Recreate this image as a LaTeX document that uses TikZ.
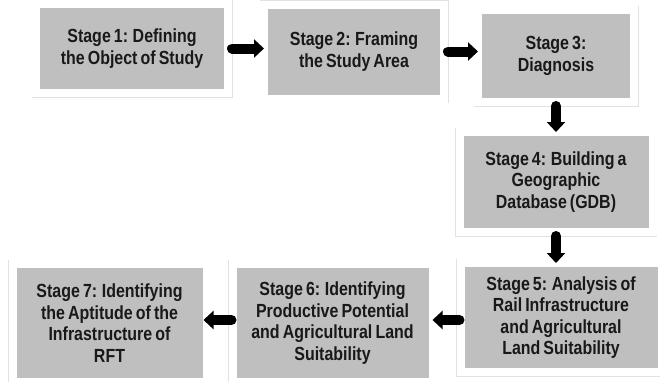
\documentclass[tikz,border=0pt]{standalone}
\usepackage{fontspec}
\setmainfont{Liberation Sans}[FakeStretch=0.84,WordSpace=0.7]
\usetikzlibrary{positioning,arrows.meta}
\definecolor{stagegray}{RGB}{191,191,191}
\definecolor{framegray}{RGB}{226,226,226}

\begin{document}
\begin{tikzpicture}[node distance=22pt,
  stage/.style={fill=stagegray,draw=white,line width=8pt,preaction={draw=framegray,line width=9pt},
    align=center,inner sep=0pt,text=black!90,font=\bfseries\fontsize{19}{21.5}\selectfont},
  blk/.style={line width=10pt,line cap=round,shorten >=-4pt,-{Triangle[length=10pt,width=18pt]}}]
\useasboundingbox (0,0) rectangle (660pt,-381pt);
% top row, left to right
\node[stage,minimum width=192pt,minimum height=89pt] (s1) at (132pt,-48.5pt) {Stage 1: Defining\\the Object of Study};
\node[stage,minimum width=180pt,minimum height=94pt,right=28pt of s1,yshift=-3pt] (s2) {Stage 2: Framing\\the Study Area};
\node[stage,minimum width=156pt,minimum height=92pt,right=26pt of s2,yshift=-4.5pt] (s3) {Stage 3:\\Diagnosis};
% down the right side
\node[stage,minimum width=193pt,minimum height=100pt,below=22pt of s3] (s4) {Stage 4: Building a\\Geographic\\Database (GDB)};
\node[stage,minimum width=201pt,minimum height=109pt,below=23pt of s4,xshift=5pt] (s5) {Stage 5: Analysis of\\Rail Infrastructure\\and Agricultural\\Land Suitability};
% bottom row, right to left
\node[stage,minimum width=200pt,minimum height=118pt,left=20pt of s5,yshift=-5.5pt] (s6) {Stage 6: Identifying\\Productive Potential\\and Agricultural Land\\Suitability};
\node[stage,minimum width=194pt,minimum height=118pt,left=18pt of s6] (s7) {Stage 7: Identifying\\the Aptitude of the\\Infrastructure of\\RFT};
\draw[blk] (s1) -- (s1 -| s2.west);
\draw[blk] (s2) -- (s2 -| s3.west);
\draw[blk] (s3) -- (s4);
\draw[blk] (s4) -- (s4 |- s5.north);
\draw[blk,shorten <=-3pt] (s5.west |- 0,-320pt) -- (s6.east |- 0,-320pt);
\draw[blk,shorten <=-3pt,shorten >=-7pt] (s6.west |- 0,-320pt) -- (s7.east |- 0,-320pt);
\end{tikzpicture}
\end{document}
